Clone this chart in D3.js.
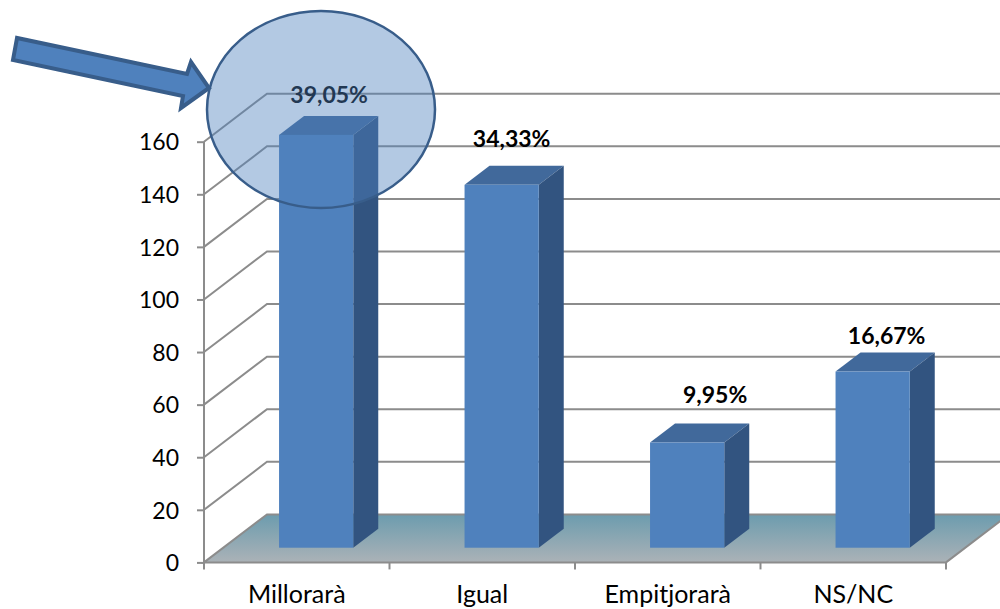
<!DOCTYPE html>
<html>
<head>
<meta charset="utf-8">
<script src="https://cdn.jsdelivr.net/npm/d3@7"></script>
<style>
	html, body { margin: 0; padding: 0; background: #fff; }
	svg { display: block; }
	text { font-family: Lato, "Open Sans", sans-serif; fill: #000; font-variant-ligatures: none; }
	.axis path { display: none; }
	.axis line { stroke: #8c8c8c; stroke-width: 2; }
	.axis.y text { font-size: 23px; }
	.axis.x text { font-size: 25px; }
	.pct { font-size: 23px; font-weight: 700; text-anchor: middle; }
</style>
</head>
<body>
<div id="chart"></div>
<script>
'use strict';

// values
var categories = ['Millorarà', 'Igual', 'Empitjorarà', 'NS/NC'];
var values = [157, 138, 40, 67];
var pctLabels = ['39,05%', '34,33%', '9,95%', '16,67%'];
var yTicks = [0, 20, 40, 60, 80, 100, 120, 140, 160];

var width = 1000;
var height = 609;

// the labels were placed by hand in the original
var labelNudgeX = [13, 10, 28, 14];
var labelNudgeY = [-32, -38, -40, -28];

var depth = {x: 63, y: -48};       // floor / wall depth
var barDepth = {x: 25, y: -19};    // depth of a bar
var barInset = {x: 19.4, y: -14.7}; // how far a bar sits back from the axis plane

var x = d3.scaleBand()
	.domain(categories)
	.range([204, 946])
	.paddingInner(0.6)
	.paddingOuter(0.3);

var y = d3.scaleLinear()
	.domain([0, 160])
	.range([562.4, 141.7]);

var svg = d3.select('#chart').append('svg')
	.attr('width', width)
	.attr('height', height);

var defs = svg.append('defs');
var floorGrad = defs.append('linearGradient')
	.attr('id', 'floorGrad')
	.attr('x1', 0).attr('y1', 0)
	.attr('x2', 0).attr('y2', 1);
floorGrad.append('stop').attr('offset', '0%').attr('stop-color', '#6c9cae');
floorGrad.append('stop').attr('offset', '100%').attr('stop-color', '#abb2b7');

function poly(pts){
	return pts.map(function(p){ return p[0] + ',' + p[1]; }).join(' ');
}

// walls
var grid = svg.append('g').attr('class', 'grid');

grid.selectAll('polyline')
	.data(yTicks.slice(1))
	.enter()
	.append('polyline')
	.attr('fill', 'none')
	.attr('stroke', '#8c8c8c')
	.attr('stroke-width', 2)
	.attr('points', function(d){
		return poly([
			[x.range()[0], y(d)],
			[x.range()[0] + depth.x, y(d) + depth.y],
			[x.range()[1] + depth.x, y(d) + depth.y]
		]);
	});

// floor
svg.append('polygon')
	.attr('fill', 'url(#floorGrad)')
	.attr('stroke', '#8c8c8c')
	.attr('stroke-width', 2)
	.attr('points', poly([
		[x.range()[0], y(0)],
		[x.range()[0] + depth.x, y(0) + depth.y],
		[x.range()[1] + depth.x, y(0) + depth.y],
		[x.range()[1], y(0)]
	]));

// y axis
svg.append('g')
	.attr('class', 'axis y')
	.attr('transform', 'translate(' + x.range()[0] + ',0)')
	.call(d3.axisLeft(y).tickValues(yTicks).tickSize(7).tickPadding(18))
	.selectAll('text')
	.attr('dy', '0.36em');

svg.append('line')
	.attr('x1', x.range()[0]).attr('x2', x.range()[0])
	.attr('y1', y(160)).attr('y2', y(0))
	.attr('stroke', '#8c8c8c')
	.attr('stroke-width', 2);

// x axis, the ticks sit between the categories
var xAxisG = svg.append('g')
	.attr('class', 'axis x')
	.attr('transform', 'translate(0,' + y(0) + ')');

xAxisG.call(d3.axisBottom(x).tickSize(0).tickPadding(41));
xAxisG.selectAll('.tick text').attr('dy', 0);

xAxisG.selectAll('line.sep')
	.data(d3.range(categories.length + 1))
	.enter()
	.append('line')
	.attr('class', 'sep')
	.attr('x1', function(i){ return x.range()[0] + i * x.step(); })
	.attr('x2', function(i){ return x.range()[0] + i * x.step(); })
	.attr('y1', 0)
	.attr('y2', 7);

// bars
var bar = svg.selectAll('g.bar')
	.data(categories.map(function(c, i){ return {name: c, value: values[i], pct: pctLabels[i], i: i}; }))
	.enter()
	.append('g')
	.attr('class', 'bar')
	.attr('transform', 'translate(' + barInset.x + ',' + barInset.y + ')');

bar.append('polygon')
	.attr('fill', '#41699b')
	.attr('points', function(d){
		var l = x(d.name), r = l + x.bandwidth(), t = y(d.value);
		return poly([[l, t], [l + barDepth.x, t + barDepth.y], [r + barDepth.x, t + barDepth.y], [r, t]]);
	});

bar.append('polygon')
	.attr('fill', '#325480')
	.attr('points', function(d){
		var r = x(d.name) + x.bandwidth(), t = y(d.value), b = y(0);
		return poly([[r, t], [r + barDepth.x, t + barDepth.y], [r + barDepth.x, b + barDepth.y], [r, b]]);
	});

bar.append('rect')
	.attr('fill', '#4f81bd')
	.attr('x', function(d){ return x(d.name); })
	.attr('y', function(d){ return y(d.value); })
	.attr('width', x.bandwidth())
	.attr('height', function(d){ return y(0) - y(d.value); });

bar.append('text')
	.attr('class', 'pct')
	.attr('x', function(d){ return x(d.name) + x.bandwidth() / 2 + labelNudgeX[d.i]; })
	.attr('y', function(d){ return y(d.value) + labelNudgeY[d.i]; })
	.text(function(d){ return d.pct; });

// highlight on the first bar
svg.append('ellipse')
	.attr('cx', 321)
	.attr('cy', 109.5)
	.attr('rx', 114)
	.attr('ry', 98.5)
	.attr('fill', '#4f81bd')
	.attr('fill-opacity', 0.43)
	.attr('stroke', '#385d8a')
	.attr('stroke-width', 2.5);

svg.append('polygon')
	.attr('fill', '#4f81bd')
	.attr('stroke', '#385d8a')
	.attr('stroke-width', 4)
	.attr('points', poly([[17, 38], [13, 60], [183, 96], [181, 108], [209, 88], [191, 62], [187, 74]]));
</script>
</body>
</html>
